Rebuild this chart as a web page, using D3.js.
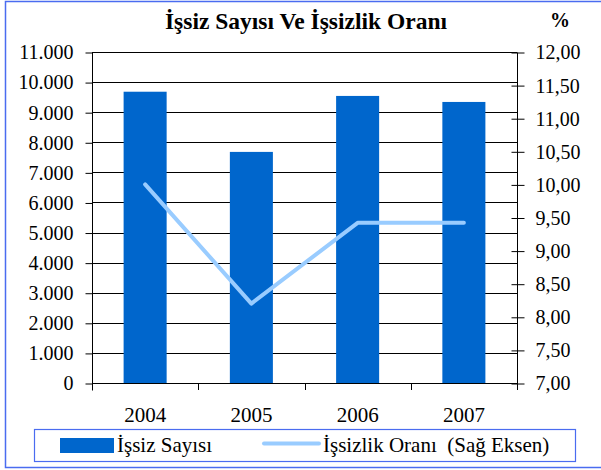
<!DOCTYPE html>
<html>
<head>
<meta charset="utf-8">
<script src="https://cdn.jsdelivr.net/npm/d3@7"></script>
<style>
body{margin:0;background:#fff;}
svg text{font-family:"Liberation Serif","Times New Roman",serif;fill:#000;}
</style>
</head>
<body>
<svg width="601" height="470"></svg>
<script>
var years = ["2004","2005","2006","2007"]
var issizSayisi = [9680, 7680, 9540, 9340]
var issizlikOrani = [10.0, 8.2, 9.42, 9.42]
var leftTicks = [0,1000,2000,3000,4000,5000,6000,7000,8000,9000,10000,11000]
var rightTicks = [7,7.5,8,8.5,9,9.5,10,10.5,11,11.5,12]

var serif = "Liberation Serif"
var svg = d3.select("svg")
//size of plot
var plot = {left:92, right:517, top:52, bottom:383}

//frame round the whole chart
svg.append("rect")
    .attr("x",5.5).attr("y",1.5)
    .attr("width",600).attr("height",466)
    .attr("fill","none")
    .attr("stroke","#4a6cf0")
    .attr("stroke-width",1.5)

var xScale = d3.scaleBand()
    .domain(years)
    .range([plot.left,plot.right])
    .paddingInner(0.595)
    .paddingOuter(0.2975)

var yLeft = d3.scaleLinear()
    .domain([0,11000])
    .range([plot.bottom,plot.top])

var yRight = d3.scaleLinear()
    .domain([7,12])
    .range([plot.bottom,plot.top])

var trNum = function(v){
    return d3.format(",")(v).replace(/,/g,".")
}
var trPct = function(v){
    return d3.format(".2f")(v).replace(".",",")
}

//gridlines
svg.append("g")
    .selectAll("line")
    .data(leftTicks.slice(1))
    .enter()
    .append("line")
    .attr("x1",plot.left).attr("x2",plot.right)
    .attr("y1",function(d){return Math.round(yLeft(d))+0.5})
    .attr("y2",function(d){return Math.round(yLeft(d))+0.5})
    .attr("stroke","#000")
    .attr("stroke-width",1)

//bars
svg.append("g")
    .selectAll("rect")
    .data(years)
    .enter()
    .append("rect")
    .attr("x",function(d){return xScale(d)})
    .attr("width",xScale.bandwidth())
    .attr("y",function(d,i){return yLeft(issizSayisi[i])})
    .attr("height",function(d,i){return plot.bottom-yLeft(issizSayisi[i])})
    .attr("fill","#0066cc")

//left axis
var leftAxis = svg.append("g")
    .attr("transform","translate("+(plot.left+0.5)+",0.5)")
    .call(d3.axisLeft(yLeft).tickValues(leftTicks).tickFormat(trNum).tickSize(7).tickPadding(12))
leftAxis.attr("font-family",serif)
leftAxis.select(".domain").attr("stroke","#000").attr("d","M0,"+plot.top+"V"+(plot.bottom+7))
leftAxis.selectAll("text").attr("font-size",20).style("font-family",serif)

//right axis
var rightAxis = svg.append("g")
    .attr("transform","translate("+(plot.right+0.5)+",0.5)")
    .call(d3.axisRight(yRight).tickValues(rightTicks).tickFormat(trPct).tickSize(7).tickPadding(11))
rightAxis.attr("font-family",serif)
rightAxis.select(".domain").attr("stroke","#000").attr("d","M0,"+plot.top+"V"+plot.bottom)
rightAxis.selectAll(".tick line").attr("x1",-6)
rightAxis.selectAll("text").attr("font-size",20).style("font-family",serif)

//bottom axis
var step = xScale.step()
var bounds = d3.range(years.length+1).map(function(i){return plot.left+i*step})
svg.append("line")
    .attr("x1",plot.left).attr("x2",plot.right)
    .attr("y1",plot.bottom+0.5).attr("y2",plot.bottom+0.5)
    .attr("stroke","#000")
svg.append("g")
    .selectAll("line")
    .data(bounds)
    .enter()
    .append("line")
    .attr("x1",function(d){return Math.round(d)+0.5})
    .attr("x2",function(d){return Math.round(d)+0.5})
    .attr("y1",plot.bottom).attr("y2",plot.bottom+7)
    .attr("stroke","#000")
svg.append("g")
    .selectAll("text")
    .data(years)
    .enter()
    .append("text")
    .text(function(d){return d})
    .attr("x",function(d){return xScale(d)+xScale.bandwidth()/2})
    .attr("y",plot.bottom+39)
    .attr("text-anchor","middle")
    .attr("font-size",21)
    .style("font-family",serif)

//rate line
var lineGenerator = d3.line()
    .x(function(d,i){return xScale(years[i])+xScale.bandwidth()/2})
    .y(function(d){return yRight(d)})
svg.append("path")
    .datum(issizlikOrani)
    .attr("d",lineGenerator)
    .attr("fill","none")
    .attr("stroke","#99ccff")
    .attr("stroke-width",4)
    .attr("stroke-linecap","round")
    .attr("stroke-linejoin","round")

//title
svg.append("text")
    .text("İşsiz Sayısı Ve İşsizlik Oranı")
    .attr("x",306).attr("y",29)
    .attr("text-anchor","middle")
    .attr("font-size",23.5)
    .attr("font-weight","bold")
    .style("font-family",serif)
svg.append("text")
    .text("%")
    .attr("x",560).attr("y",27)
    .attr("text-anchor","middle")
    .attr("font-size",20)
    .attr("font-weight","bold")
    .style("font-family",serif)

//legend
var legend = svg.append("g")
legend.append("rect")
    .attr("x",34.5).attr("y",429.5)
    .attr("width",541).attr("height",32)
    .attr("fill","none")
    .attr("stroke","#4a6cf0")
    .attr("stroke-width",1.2)
legend.append("rect")
    .attr("x",60).attr("y",438)
    .attr("width",54).attr("height",15)
    .attr("fill","#0066cc")
legend.append("text")
    .text("İşsiz Sayısı")
    .attr("x",117).attr("y",452)
    .attr("font-size",21)
    .style("font-family",serif)
legend.append("line")
    .attr("x1",264).attr("x2",319)
    .attr("y1",443.5).attr("y2",443.5)
    .attr("stroke","#99ccff")
    .attr("stroke-width",4)
    .attr("stroke-linecap","round")
legend.append("text")
    .text("İşsizlik Oranı\u00a0\u00a0(Sağ Eksen)")
    .attr("x",323).attr("y",452)
    .attr("font-size",21)
    .style("font-family",serif)
</script>
</body>
</html>
